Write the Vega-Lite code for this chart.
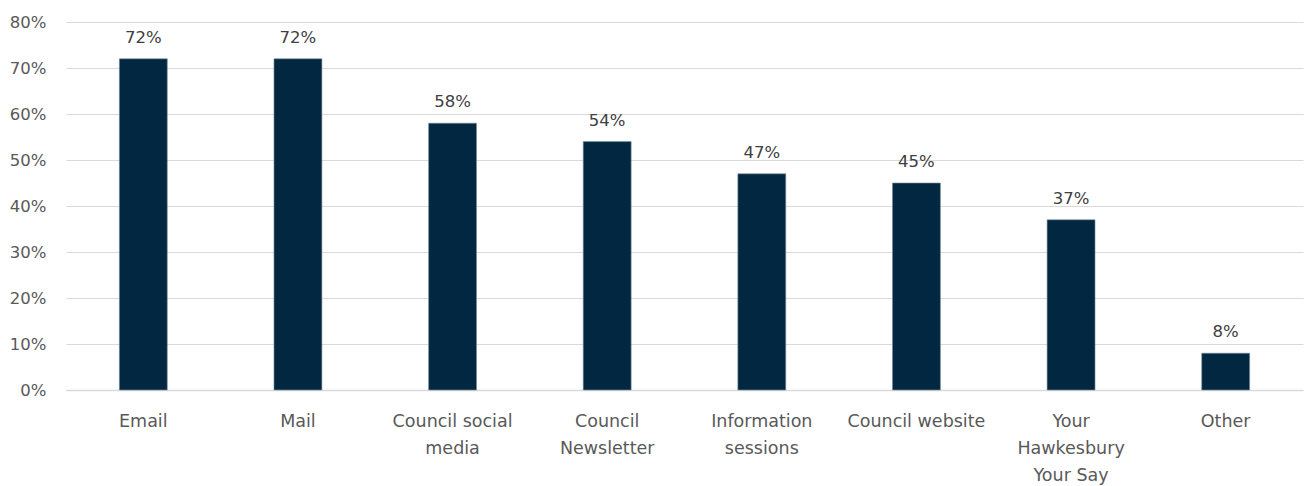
{
  "$schema": "https://vega.github.io/schema/vega-lite/v6.json",
  "width": 1237,
  "height": 368,
  "autosize": {"type": "none"},
  "padding": {"left": 66, "top": 22, "right": 6, "bottom": 96},
  "background": "white",
  "config": {
    "view": {"stroke": null},
    "font": "DejaVu Sans"
  },
  "data": {
    "values": [
      {"channel": "Email", "pct": 72},
      {"channel": "Mail", "pct": 72},
      {"channel": "Council social media", "pct": 58},
      {"channel": "Council Newsletter", "pct": 54},
      {"channel": "Information sessions", "pct": 47},
      {"channel": "Council website", "pct": 45},
      {"channel": "Your Hawkesbury Your Say", "pct": 37},
      {"channel": "Other", "pct": 8}
    ]
  },
  "encoding": {
    "x": {
      "field": "channel",
      "type": "nominal",
      "sort": null,
      "scale": {"paddingInner": 0.69, "paddingOuter": 0.345},
      "axis": {
        "title": null,
        "labelAngle": 0,
        "labelFont": "DejaVu Sans",
        "labelFontSize": 17.5,
        "labelColor": "#595959",
        "labelPadding": 22,
        "labelLineHeight": 27,
        "ticks": false,
        "domain": true,
        "domainColor": "#d9d9d9",
        "domainWidth": 1.5,
        "labelExpr": "datum.value == 'Council social media' ? ['Council social', 'media'] : datum.value == 'Council Newsletter' ? ['Council', 'Newsletter'] : datum.value == 'Information sessions' ? ['Information', 'sessions'] : datum.value == 'Your Hawkesbury Your Say' ? ['Your', 'Hawkesbury', 'Your Say'] : datum.value"
      }
    },
    "y": {
      "field": "pct",
      "type": "quantitative",
      "scale": {"domain": [0, 80]},
      "axis": {
        "title": null,
        "values": [0, 10, 20, 30, 40, 50, 60, 70, 80],
        "labelExpr": "datum.value + '%'",
        "labelFont": "DejaVu Sans",
        "labelFontSize": 16.5,
        "labelColor": "#595959",
        "labelPadding": 20,
        "ticks": false,
        "domain": false,
        "grid": true,
        "gridColor": "#d9d9d9",
        "gridWidth": 1.2
      }
    }
  },
  "layer": [
    {
      "mark": {"type": "bar", "color": "#022841", "stroke": "#7d8fa0", "strokeWidth": 0.6}
    },
    {
      "mark": {"type": "text", "baseline": "alphabetic", "dy": -16, "fontSize": 16.5, "color": "#404040", "font": "DejaVu Sans", "text": {"expr": "datum.pct + '%'"}}
    }
  ]
}
